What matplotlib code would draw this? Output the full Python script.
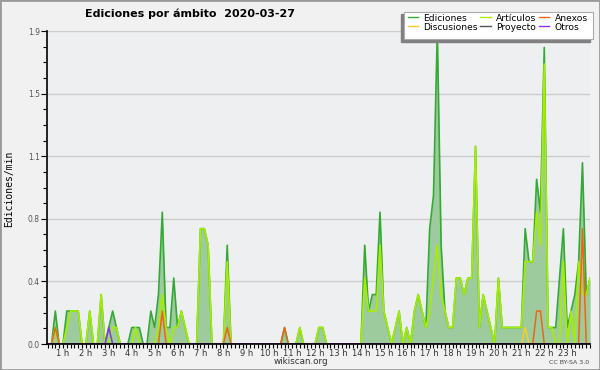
import numpy as np
import matplotlib
matplotlib.use("Agg")
import matplotlib.pyplot as plt
from matplotlib.patches import Rectangle
from matplotlib.lines import Line2D
from matplotlib.ticker import MultipleLocator, FixedLocator

# ediciones/min, 10-minute bins from 00:20 to 24:00
ediciones = [0, 0, 0.2, 0, 0, 0.2, 0.2, 0.2, 0.2, 0, 0, 0.2,
             0, 0, 0.3, 0, 0.1, 0.2, 0.1, 0, 0, 0, 0.1, 0.1,
             0.1, 0, 0, 0.2, 0.1, 0.3, 0.8, 0.1, 0.1, 0.4, 0.1, 0.2,
             0.1, 0, 0, 0, 0.7, 0.7, 0.6, 0, 0, 0, 0, 0.6,
             0, 0, 0, 0, 0, 0, 0, 0, 0, 0, 0, 0,
             0, 0, 0.1, 0, 0, 0, 0.1, 0, 0, 0, 0, 0.1,
             0.1, 0, 0, 0, 0, 0, 0, 0, 0, 0, 0, 0.6,
             0.2, 0.3, 0.3, 0.8, 0.2, 0.1, 0, 0.1, 0.2, 0, 0.1, 0,
             0.2, 0.3, 0.2, 0.1, 0.7, 0.9, 1.9, 0.6, 0.2, 0.1, 0.1, 0.4,
             0.4, 0.3, 0.4, 0.4, 1.2, 0.1, 0.3, 0.2, 0.1, 0, 0.4, 0.1,
             0.1, 0.1, 0.1, 0.1, 0.1, 0.7, 0.5, 0.5, 1.0, 0.8, 1.8, 0.1,
             0.1, 0.1, 0.4, 0.7, 0.1, 0.2, 0.3, 0.5, 1.1, 0.3, 0.4]

articulos = [0, 0, 0.1, 0, 0, 0.1, 0.2, 0.2, 0.2, 0, 0, 0.2,
             0, 0, 0.3, 0, 0, 0.1, 0.1, 0, 0, 0, 0, 0.1,
             0, 0, 0, 0, 0, 0.1, 0.3, 0.1, 0, 0.1, 0.1, 0.2,
             0.1, 0, 0, 0, 0.7, 0.7, 0.6, 0, 0, 0, 0, 0.5,
             0, 0, 0, 0, 0, 0, 0, 0, 0, 0, 0, 0,
             0, 0, 0, 0, 0, 0, 0.1, 0, 0, 0, 0, 0.1,
             0.1, 0, 0, 0, 0, 0, 0, 0, 0, 0, 0, 0.4,
             0.2, 0.2, 0.2, 0.6, 0.2, 0.1, 0, 0.1, 0.2, 0, 0.1, 0,
             0.2, 0.3, 0.2, 0.1, 0.2, 0.4, 0.6, 0.3, 0.2, 0.1, 0.1, 0.4,
             0.4, 0.3, 0.4, 0.4, 1.2, 0.1, 0.3, 0.2, 0.1, 0, 0.4, 0.1,
             0.1, 0.1, 0.1, 0.1, 0.1, 0.5, 0.5, 0.5, 0.8, 0.6, 1.7, 0.1,
             0.1, 0, 0, 0.5, 0, 0.2, 0, 0.5, 0.3, 0.3, 0.4]

# sparse series: bin index -> value
anexos = {2: 0.1, 30: 0.2, 47: 0.1, 62: 0.1, 128: 0.2, 129: 0.2, 140: 0.7}
discusiones = {125: 0.1}
otros = {16: 0.1}
proyecto = {}

n = len(ediciones)
t = (20 + 10 * np.arange(n)) / 60.0


def expand(d):
    a = np.zeros(n)
    for k, v in d.items():
        a[k] = v
    return a


fig = plt.figure(figsize=(6, 3.7), dpi=100, facecolor='#f1f1f1')
ax = fig.add_axes([46.7 / 600, 26 / 370, 543.4 / 600, 313 / 370])
ax.set_facecolor('#eeeff1')

ax.fill_between(t, 0, ediciones, color='#9dcb9d', lw=0, zorder=1)
ax.plot(t, ediciones, color='#33aa33', lw=1.2, zorder=2)
ax.plot(t, articulos, color='#a6ee00', lw=1.2, zorder=2.1)
ax.plot(t, expand(discusiones), color='#ffcc22', lw=1.1, zorder=2.2)
ax.plot(t, expand(proyecto), color='#555555', lw=1.1, zorder=2.2)
ax.plot(t, expand(anexos), color='#ee6611', lw=1.1, zorder=2.3)
ax.plot(t, expand(otros), color='#8833ee', lw=1.1, zorder=2.3)

ax.set_xlim(0.29, 24.0)
ax.set_ylim(0, 1.9)

yt = np.linspace(0, 1.9, 6)
ax.yaxis.set_major_locator(FixedLocator(yt))
ax.set_yticklabels(['%.1f' % v for v in yt])
ax.yaxis.set_minor_locator(MultipleLocator(0.095))
ax.xaxis.set_major_locator(FixedLocator(range(1, 24)))
ax.set_xticklabels(['%d h' % h for h in range(1, 24)])
ax.xaxis.set_minor_locator(MultipleLocator(1 / 6))

ax.grid(axis='y', which='major', color='#cccccc', lw=1)
ax.set_axisbelow(True)
for s in ['top', 'right']:
    ax.spines[s].set_visible(False)
for s in ['left', 'bottom']:
    ax.spines[s].set_linewidth(1.2)
    ax.spines[s].set_zorder(5)

ax.tick_params(axis='x', which='both', length=3, width=0.8, pad=0.5,
               labelsize=6, labelcolor='#333333')
ax.tick_params(axis='y', which='major', length=4, width=0.8, pad=1,
               labelsize=5.5, labelcolor='#555555')
ax.tick_params(axis='y', which='minor', length=3, width=0.8)

fig.text(85 / 600, 1 - 17.3 / 370, 'Ediciones por ámbito  2020-03-27',
         ha='left', va='baseline', fontsize=8, fontweight='bold')
fig.text(9 / 600, 1 - 188.5 / 370, 'Ediciones/min', rotation=90,
         ha='center', va='center', fontsize=7, family='DejaVu Sans Mono')
fig.text(300.5 / 600, 1 - 362 / 370, 'wikiscan.org', ha='center',
         va='center', fontsize=6.3, color='#333333')
fig.text(569 / 600, 1 - 362.5 / 370, 'CC BY-SA 3.0', ha='center',
         va='center', fontsize=4.5, color='#444444')

# legend box with its shadow (down-left), drawn over the plot
fig.patches.append(Rectangle((401 / 600, 1 - 42 / 370), 189 / 600, 27.6 / 370,
                             transform=fig.transFigure, color='#808080', zorder=4))
fig.patches.append(Rectangle((404 / 600, 1 - 39.3 / 370), 189 / 600, 27.6 / 370,
                             transform=fig.transFigure, facecolor='white',
                             edgecolor='#aaaaaa', lw=0.8, zorder=4.5))

names = ['Ediciones', 'Discusiones', 'Artículos', 'Proyecto', 'Anexos', 'Otros']
cols = ['#33aa33', '#ffcc22', '#a6ee00', '#555555', '#ee6611', '#8833ee']
handles = [Line2D([], [], color=c, lw=1) for c in cols]
leg = fig.legend(handles, names, ncol=3, loc='upper left',
                 bbox_to_anchor=(407.5 / 600, 1 - 13.7 / 370),
                 fontsize=6.6, frameon=False, handlelength=1.15,
                 handletextpad=0.55, columnspacing=0.3, labelspacing=0,
                 borderpad=0, borderaxespad=0)
leg.set_zorder(6)

fig.patches.append(Rectangle((0, 0), 1, 1, transform=fig.transFigure, fill=False,
                             edgecolor='#9a9a9a', lw=2, zorder=10))

fig.savefig('out.png', dpi=100, facecolor=fig.get_facecolor())
